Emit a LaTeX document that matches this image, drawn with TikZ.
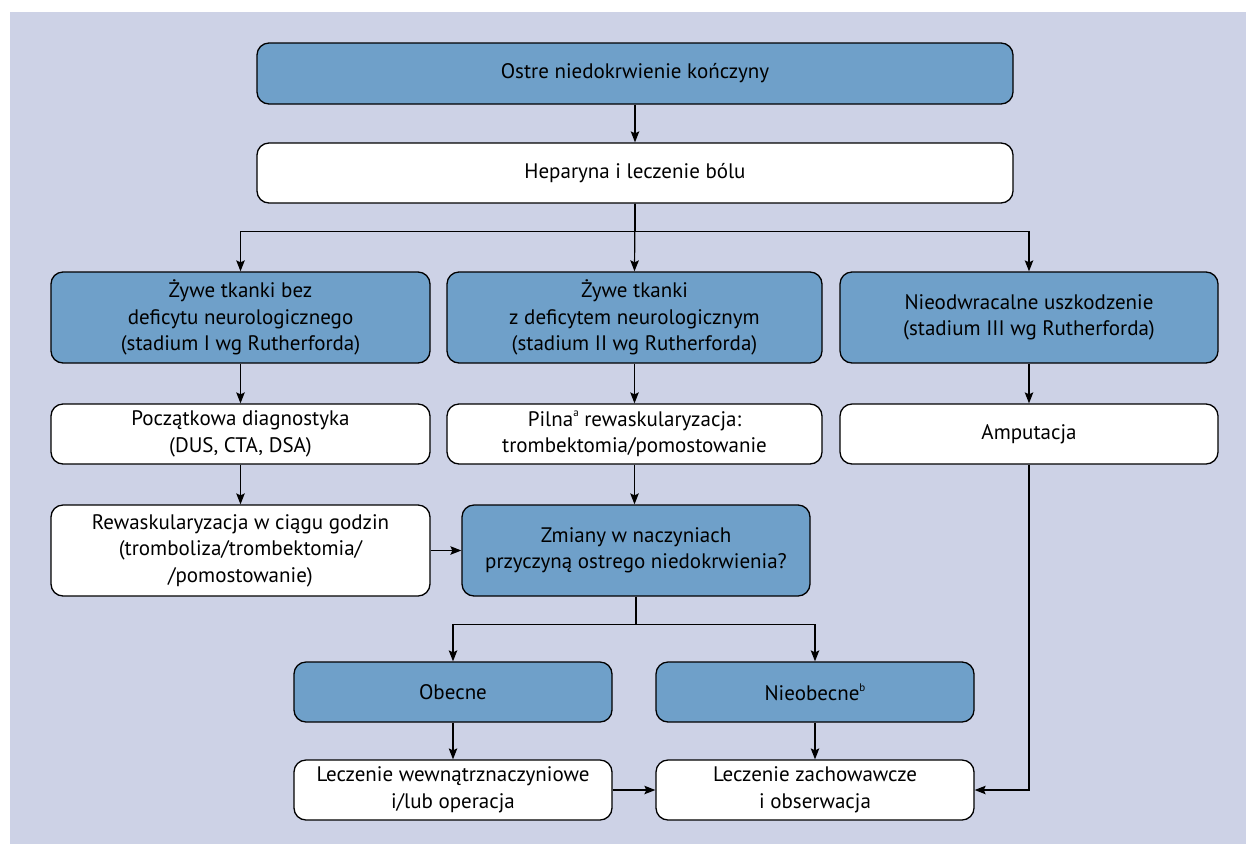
\documentclass[tikz,border=0pt]{standalone}
\usepackage{fontspec}
\setmainfont{PT Sans}
\usetikzlibrary{arrows.meta}

\definecolor{tlo}{HTML}{CDD2E6}
\definecolor{niebieski}{HTML}{6FA0C9}

\begin{document}
\begin{tikzpicture}[x = 1pt, y = -1pt,
	box/.style = {draw, line width = 1.3pt, rounded corners = 12pt, align = center, inner sep = 2pt,
		font = \fontsize{21}{26.5}\selectfont},
	blue/.style = {box, fill = niebieski},
	white/.style = {box, fill = white},
	arr/.style = {line width = 1.2pt, -{Stealth[length = 11pt, width = 8.5pt, inset = 2pt]}},
	lin/.style = {line width = 1.2pt}]%schemat postepowania
	\useasboundingbox (0,0) rectangle (1246,844);
	\fill[tlo] (10,12) rectangle (1246,844);
	% rzad 1-2
	\node[blue, minimum width = 756pt, minimum height = 61pt] (ostre) at (635,73.5) {Ostre niedokrwienie kończyny};
	\node[white, minimum width = 756pt, minimum height = 60pt] (hep) at (635,173) {Heparyna i leczenie bólu};
	% rzad 3
	\node[blue, minimum width = 379pt, minimum height = 91pt] (zywe1) at (240.5,317.5) {Żywe tkanki bez\\deficytu neurologicznego\\(stadium I wg Rutherforda)};
	\node[blue, minimum width = 375pt, minimum height = 91pt] (zywe2) at (634.5,317.5) {Żywe tkanki\\z deficytem neurologicznym\\(stadium II wg Rutherforda)};
	\node[blue, minimum width = 378pt, minimum height = 91pt] (nieodw) at (1029,317.5) {Nieodwracalne uszkodzenie\\(stadium III wg Rutherforda)};
	% rzad 4
	\node[white, minimum width = 379pt, minimum height = 60pt] (diag) at (240.5,434) {Początkowa diagnostyka\\(DUS, CTA, DSA)};
	\node[white, minimum width = 375pt, minimum height = 60pt] (pilna) at (634.5,434) {Pilna\raisebox{0.45em}{\fontsize{11}{11}\selectfont a} rewaskularyzacja:\\trombektomia/pomostowanie};
	\node[white, minimum width = 378pt, minimum height = 60pt] (amp) at (1029,434) {Amputacja};
	% rzad 5
	\node[white, minimum width = 379pt, minimum height = 91pt] (rewask) at (240.5,550.5) {Rewaskularyzacja w ciągu godzin\\(tromboliza/trombektomia/\\/pomostowanie)};
	\node[blue, minimum width = 348pt, minimum height = 91pt] (zmiany) at (636,550.5) {Zmiany w naczyniach\\przyczyną ostrego niedokrwienia?};
	% rzad 6-7
	\node[blue, minimum width = 318pt, minimum height = 60pt] (obecne) at (453,692) {Obecne};
	\node[blue, minimum width = 318pt, minimum height = 60pt] (nieob) at (815,692) {Nieobecne\raisebox{0.45em}{\fontsize{11}{11}\selectfont b}};
	\node[white, minimum width = 318pt, minimum height = 60pt] (wewn) at (453,790) {Leczenie wewnątrznaczyniowe\\i/lub operacja};
	\node[white, minimum width = 318pt, minimum height = 60pt] (zach) at (815,790) {Leczenie zachowawcze\\i obserwacja};

	\draw[arr] (ostre) -- (hep);
	\draw[lin] (hep.south) -- ++(0,28) coordinate (rozg);
	\draw[arr] (rozg) -| (zywe1.north);
	\draw[arr] (rozg) -| (nieodw.north);
	\draw[arr] (hep.south) -- (zywe2.north);
	\draw[arr] (zywe1) -- (diag);
	\draw[arr] (zywe2) -- (pilna);
	\draw[arr] (nieodw) -- (amp);
	\draw[arr] (diag) -- (rewask);
	\draw[arr] (pilna.south) -- (pilna.south |- zmiany.north);
	\draw[arr] (rewask) -- (zmiany);
	\draw[lin] (zmiany.south) -- ++(0,28) coordinate (rozg2);
	\draw[arr] (rozg2) -| (obecne.north);
	\draw[arr] (rozg2) -| (nieob.north);
	\draw[arr] (obecne) -- (wewn);
	\draw[arr] (nieob) -- (zach);
	\draw[arr] (wewn) -- (zach);
	\draw[arr] (amp.south) |- (zach.east);
\end{tikzpicture}
\end{document}
